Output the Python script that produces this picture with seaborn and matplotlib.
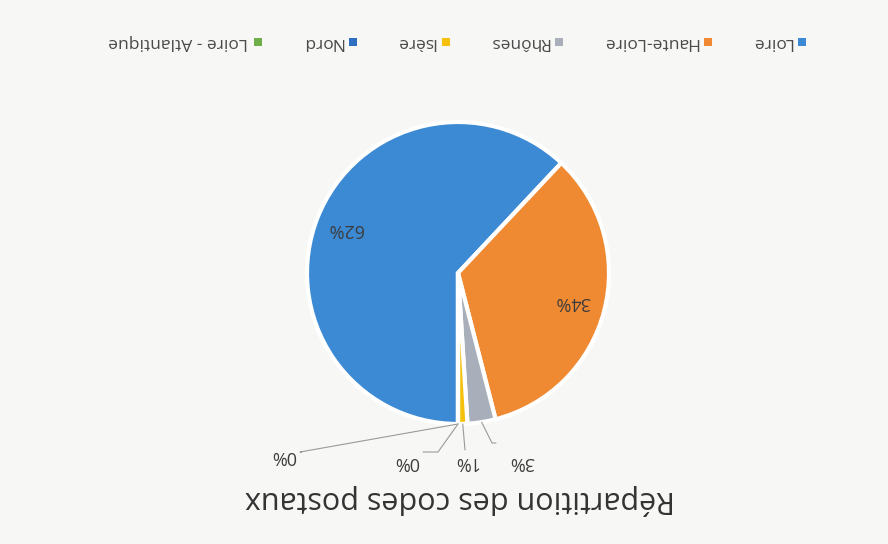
import matplotlib
matplotlib.use("Agg")
import matplotlib.pyplot as plt
import seaborn as sns
import numpy as np

# Data (scan of an Excel pie chart, printed upside down)
regions = ["Loire", "Haute-Loire", "Rhônes", "Isère", "Nord", "Loire - Atlantique"]
shares = [62, 34, 3, 1, 0, 0]
colors = ["#3b8ad3", "#ef8a33", "#a8afba", "#f4c20d", "#2f6fc0", "#6fae48"]
title = "Répartition des codes postaux"

sns.set_theme(style="white")
plt.rcParams["font.family"] = ["Open Sans", "DejaVu Sans"]

W, H = 888, 544
fig = plt.figure(figsize=(W / 100, H / 100), dpi=100, facecolor="#f7f7f6")
ax = fig.add_axes([0, 0, 1, 1])
ax.set_facecolor("#f7f7f6")

# whole chart is rotated 180 degrees: start at 6 o'clock, still clockwise
cx, cy, r = 458, 271, 151
wedges, _ = ax.pie(
    shares,
    colors=colors,
    startangle=-90,
    counterclock=False,
    center=(cx, cy),
    radius=r,
    wedgeprops={"edgecolor": "white", "linewidth": 3},
    frame=True,
)
ax.set_xlim(0, W)
ax.set_ylim(0, H)
ax.set_aspect("equal")
ax.axis("off")


def point_on(w, frac=1.0):
    ang = np.deg2rad((w.theta1 + w.theta2) / 2)
    return cx + r * frac * np.cos(ang), cy + r * frac * np.sin(ang)


lbl_kw = dict(rotation=180, fontsize=13, color="#3c3c3c", ha="center", va="center")

# big slices: labels inside
for i, frac in [(0, 0.8), (1, 0.78)]:
    x, y = point_on(wedges[i], frac)
    ax.text(x, y, f"{shares[i]}%", **lbl_kw)

# small slices: labels below with leader lines
label_pos = {2: (522, 82), 3: (466, 82), 4: (407, 82), 5: (284, 88)}
elbow = {2: (492, 101), 3: (465, 94), 4: (438, 92), 5: (300, 92)}
for i, (lx, ly) in label_pos.items():
    x0, y0 = point_on(wedges[i], 1.0)
    ex, ey = elbow[i]
    end = {2: ex + 4, 3: ex, 4: lx + 16, 5: lx + 18}[i]
    ax.plot([x0, ex, end], [y0, ey, ey], color="#9a9a9a", lw=0.8)
    ax.text(lx, ly, f"{shares[i]}%", **lbl_kw)

ax.text(460, 44, title, rotation=180, fontsize=22, color="#333333",
        ha="center", va="center")

# legend drawn by hand (upside down, reading right to left)
renderer = fig.canvas.get_renderer()
x = 802
ly = 502
for name, col in zip(regions, colors):
    ax.scatter([x], [ly], marker="s", s=26, color=col, linewidths=0)
    t = ax.text(x - 10, ly, name, rotation=180, fontsize=12.5, color="#4a4a4a",
                ha="right", va="center")
    bb = t.get_window_extent(renderer)
    x = bb.x0 - 43

fig.savefig("out.png", dpi=100, facecolor=fig.get_facecolor())
